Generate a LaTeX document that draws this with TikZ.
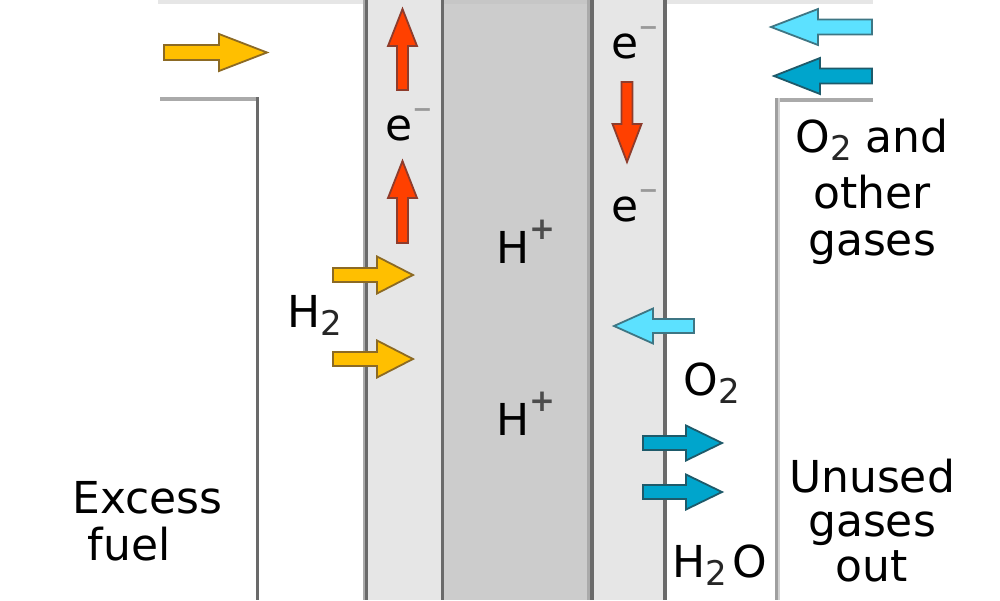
\documentclass[tikz,border=0pt]{standalone}
\usepackage{fontspec}
\setmainfont{DejaVu Sans}
\definecolor{elfill}{HTML}{E6E6E6}
\definecolor{memfill}{HTML}{CCCCCC}
\definecolor{edgedark}{HTML}{6A6A6A}
\definecolor{edgelight}{HTML}{AAAAAA}
\definecolor{yelf}{HTML}{FFBF00}
\definecolor{yelo}{HTML}{8C6A24}
\definecolor{redf}{HTML}{FF4000}
\definecolor{redo}{HTML}{8E3C2C}
\definecolor{lcyf}{HTML}{5CE1FF}
\definecolor{lcyo}{HTML}{3E7684}
\definecolor{dcyf}{HTML}{00A5CC}
\definecolor{dcyo}{HTML}{1E5A6A}
\newcommand\sub[1]{\raisebox{-8pt}{\fontsize{34}{34}\selectfont\textcolor{black!85}{#1}}}
\newcommand\elminus{\raisebox{23pt}{\fontsize{24}{24}\selectfont\textcolor{gray!80}{\bfseries −}}}
\newcommand\pplus{\raisebox{24pt}{\fontsize{31}{31}\selectfont\textcolor{black!70}{\bfseries +}}}
% block arrow: #1 style, #2 x, #3 y, #4 rotation, #5 length, #6 head length, #7 head half width, #8 shaft half width
\newcommand\fcarrow[8]{%
  \begin{scope}[shift={(#2,#3)},rotate=#4]
    \draw[#1] (0,-#8) -- ({#5-#6},-#8) -- ({#5-#6},-#7) -- (#5,0) -- ({#5-#6},#7) -- ({#5-#6},#8) -- (0,#8) -- cycle;
  \end{scope}}
\tikzset{
  lbl/.style={font=\fontsize{44}{48}\selectfont, inner sep=0pt, anchor=base},
  yarrow/.style={fill=yelf, draw=yelo, line width=1.8pt},
  rarrow/.style={fill=redf, draw=redo, line width=1.8pt},
  larrow/.style={fill=lcyf, draw=lcyo, line width=1.8pt},
  darrow/.style={fill=dcyf, draw=dcyo, line width=1.8pt},
}
\begin{document}
\begin{tikzpicture}[x=1pt,y=-1pt]
\useasboundingbox (0,0) rectangle (1000,600);
\fill[white] (0,0) rectangle (1000,600);
% top band
\fill[elfill] (158,0) rectangle (873,4);
% electrodes and membrane
\fill[elfill] (365,0) rectangle (443,600);
\fill[memfill] (443,0) rectangle (592,600);
\fill[gray!45] (443,0) rectangle (592,4);
\fill[elfill] (592,0) rectangle (665,600);
% electrode edges
\draw[edgelight, line width=2pt] (364,0) -- (364,600);
\draw[edgedark, line width=3pt] (366.5,0) -- (366.5,600);
\draw[edgedark, line width=3.5pt] (442.5,0) -- (442.5,600);
\draw[edgelight, line width=2.5pt] (588.5,0) -- (588.5,600);
\draw[edgedark, line width=3.5pt] (592,0) -- (592,600);
\draw[edgedark, line width=3.5pt] (665,0) -- (665,600);
% outer walls
\draw[edgelight, line width=4pt] (160,99) -- (258.5,99);
\draw[edgedark, line width=3pt] (257,97) -- (257,600);
\draw[edgelight, line width=4pt] (775,100) -- (873,100);
\draw[gray!75, line width=3pt] (776.5,98) -- (776.5,600);
\draw[gray!35, line width=2pt] (779,98) -- (779,600);
% arrows
\fcarrow{yarrow}{164}{52.5}{0}{103}{48}{18.5}{7.5}
\fcarrow{yarrow}{333}{275}{0}{80}{36}{18.5}{7}
\fcarrow{yarrow}{333}{359}{0}{80}{36}{18.5}{7}
\fcarrow{rarrow}{402.5}{90}{90}{81}{37}{14.5}{5.5}
\fcarrow{rarrow}{402.5}{243}{90}{82}{37}{14.5}{5.5}
\fcarrow{rarrow}{627}{82}{-90}{80}{38}{14.5}{5.5}
\fcarrow{larrow}{872}{27}{180}{101}{47}{18}{7.5}
\fcarrow{darrow}{872}{76}{180}{98}{46}{18}{7.5}
\fcarrow{larrow}{694}{326}{180}{80}{39}{17.5}{7}
\fcarrow{darrow}{643}{443}{0}{79}{36}{17.5}{7}
\fcarrow{darrow}{643}{492}{0}{79}{36}{17.5}{7}
% labels
\node[lbl] (eA) at (409,140) {e\elminus};
\node[lbl] (eC1) at (635,58) {e\elminus};
\node[lbl] (eC2) at (635,221.5) {e\elminus};
\node[lbl] (hp1) at (526,263) {H\pplus};
\node[lbl] (hp2) at (526,435) {H\pplus};
\node[lbl] (h2) at (315,327) {H\sub{2}};
\node[lbl] (o2) at (712,395) {O\sub{2}};
\node[lbl] (h2o) at (720,577) {H\sub{2}\hspace{5pt}O};
\node[lbl] (ex1) at (147.5,513) {Excess};
\node[lbl] (ex2) at (129,560) {fuel};
\node[lbl] (og1) at (872,152) {O\sub{2} and};
\node[lbl] (og2) at (872,208) {other};
\node[lbl] (og3) at (872,255) {gases};
\node[lbl] (ug1) at (872,492) {Unused};
\node[lbl] (ug2) at (872,536) {gases};
\node[lbl] (ug3) at (872,581) {out};
\end{tikzpicture}
\end{document}
